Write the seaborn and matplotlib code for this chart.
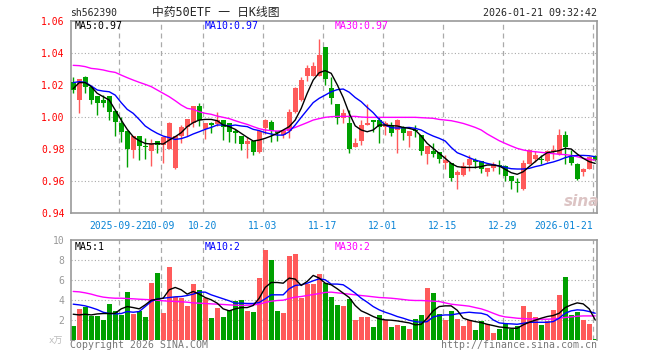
import numpy as np
import pandas as pd
import matplotlib
matplotlib.use('Agg')
import matplotlib.pyplot as plt
import seaborn as sns

# 日K 데이터
opens = [1.0215, 1.0104, 1.0248, 1.0183, 1.0129, 1.0106, 1.0129, 1.0038, 0.9963, 0.9913,
         0.9790, 0.9879, 0.9819, 0.9788, 0.9848, 0.9821, 0.9800, 0.9679, 0.9879, 0.9933,
         0.9963, 1.0067, 0.9921, 0.9963, 0.9954, 0.9979, 0.9958, 0.9913, 0.9879, 0.9829,
         0.9848, 0.9779, 0.9929, 0.9967, 0.9908, 0.9885, 0.9913, 1.0031, 1.0104, 1.0256,
         1.0256, 1.0256, 1.0435, 1.0179, 1.0079, 0.9992, 0.9963, 0.9810, 0.9850, 0.9950,
         0.9979, 0.9979, 0.9935, 0.9950, 0.9915, 0.9935, 0.9879, 0.9919, 0.9883, 0.9765,
         0.9783, 0.9777, 0.9710, 0.9710, 0.9633, 0.9633, 0.9698, 0.9727, 0.9723, 0.9654,
         0.9681, 0.9698, 0.9694, 0.9627, 0.9594, 0.9548, 0.9706, 0.9733, 0.9738, 0.9723,
         0.9777, 0.9769, 0.9883, 0.9748, 0.9706, 0.9654, 0.9675, 0.9752]
highs = [1.0250, 1.0235, 1.0254, 1.0185, 1.0131, 1.0133, 1.0131, 1.0040, 0.9996, 0.9915,
         0.9880, 0.9881, 0.9869, 0.9863, 0.9850, 0.9871, 0.9967, 0.9879, 0.9948, 0.9988,
         1.0067, 1.0088, 0.9963, 0.9965, 1.0029, 0.9981, 0.9960, 0.9925, 0.9881, 0.9871,
         0.9850, 0.9910, 0.9988, 0.9979, 0.9910, 0.9917, 1.0050, 1.0183, 1.0250, 1.0323,
         1.0342, 1.0485, 1.0437, 1.0250, 1.0081, 1.0050, 1.0042, 0.9865, 0.9979, 1.0079,
         0.9981, 0.9996, 0.9971, 0.9967, 0.9983, 0.9942, 0.9910, 0.9946, 0.9885, 0.9815,
         0.9835, 0.9779, 0.9758, 0.9712, 0.9665, 0.9717, 0.9758, 0.9744, 0.9725, 0.9679,
         0.9717, 0.9727, 0.9696, 0.9629, 0.9619, 0.9727, 0.9800, 0.9783, 0.9758, 0.9794,
         0.9821, 0.9925, 0.9910, 0.9790, 0.9708, 0.9679, 0.9752, 0.9758]
lows = [1.0146, 1.0025, 1.0150, 1.0079, 1.0011, 1.0063, 0.9980, 0.9879, 0.9844, 0.9683,
        0.9740, 0.9729, 0.9733, 0.9692, 0.9775, 0.9713, 0.9798, 0.9675, 0.9833, 0.9879,
        0.9938, 0.9942, 0.9863, 0.9896, 0.9942, 0.9854, 0.9844, 0.9833, 0.9792, 0.9744,
        0.9758, 0.9771, 0.9892, 0.9844, 0.9846, 0.9865, 0.9865, 1.0021, 1.0096, 1.0225,
        1.0254, 1.0254, 1.0198, 1.0079, 0.9954, 0.9958, 0.9775, 0.9808, 0.9823, 0.9946,
        0.9906, 0.9833, 0.9883, 0.9877, 0.9773, 0.9852, 0.9810, 0.9873, 0.9758, 0.9702,
        0.9748, 0.9710, 0.9675, 0.9598, 0.9548, 0.9627, 0.9660, 0.9681, 0.9648, 0.9627,
        0.9660, 0.9644, 0.9598, 0.9548, 0.9529, 0.9540, 0.9702, 0.9717, 0.9706, 0.9717,
        0.9738, 0.9758, 0.9706, 0.9696, 0.9606, 0.9627, 0.9673, 0.9723]
closes = [1.0170, 1.0233, 1.0188, 1.0104, 1.0088, 1.0088, 1.0031, 0.9969, 0.9904, 0.9800,
          0.9879, 0.9819, 0.9813, 0.9833, 0.9823, 0.9871, 0.9963, 0.9879, 0.9933, 0.9988,
          1.0067, 0.9979, 0.9963, 0.9950, 0.9979, 0.9933, 0.9904, 0.9900, 0.9829, 0.9850,
          0.9781, 0.9910, 0.9979, 0.9908, 0.9900, 0.9910, 1.0031, 1.0179, 1.0229, 1.0304,
          1.0317, 1.0385, 1.0235, 1.0117, 0.9992, 1.0023, 0.9800, 0.9838, 0.9946, 0.9963,
          0.9967, 0.9938, 0.9963, 0.9898, 0.9977, 0.9898, 0.9908, 0.9908, 0.9785, 0.9815,
          0.9765, 0.9733, 0.9727, 0.9617, 0.9654, 0.9694, 0.9733, 0.9717, 0.9675, 0.9677,
          0.9706, 0.9690, 0.9627, 0.9598, 0.9588, 0.9713, 0.9794, 0.9758, 0.9731, 0.9783,
          0.9794, 0.9883, 0.9810, 0.9710, 0.9613, 0.9675, 0.9748, 0.9727]

ma5 = [1.0175, 1.0213, 1.0213, 1.0188, 1.0146, 1.0125, 1.0104, 1.0042, 0.9979, 0.9921,
       0.9875, 0.9850, 0.9833, 0.9829, 0.9833, 0.9829, 0.9854, 0.9875, 0.9900, 0.9938,
       0.9963, 0.9979, 0.9983, 0.9983, 0.9975, 0.9948, 0.9938, 0.9921, 0.9896, 0.9871,
       0.9848, 0.9854, 0.9865, 0.9879, 0.9896, 0.9917, 0.9938, 0.9979, 1.0052, 1.0146,
       1.0229, 1.0275, 1.0288, 1.0271, 1.0200, 1.0120, 1.0021, 0.9943, 0.9917, 0.9906,
       0.9917, 0.9948, 0.9948, 0.9944, 0.9942, 0.9933, 0.9927, 0.9917, 0.9879, 0.9833,
       0.9802, 0.9771, 0.9740, 0.9708, 0.9688, 0.9683, 0.9683, 0.9683, 0.9688, 0.9698,
       0.9698, 0.9692, 0.9671, 0.9650, 0.9640, 0.9656, 0.9688, 0.9719, 0.9750, 0.9775,
       0.9781, 0.9788, 0.9802, 0.9798, 0.9767, 0.9740, 0.9719, 0.9708]
ma10 = [1.0213, 1.0219, 1.0215, 1.0192, 1.0167, 1.0160, 1.0156, 1.0135, 1.0088, 1.0046,
        1.0021, 0.9983, 0.9942, 0.9917, 0.9896, 0.9879, 0.9869, 0.9858, 0.9863, 0.9875,
        0.9892, 0.9906, 0.9921, 0.9933, 0.9948, 0.9948, 0.9942, 0.9948, 0.9942, 0.9938,
        0.9921, 0.9913, 0.9900, 0.9892, 0.9885, 0.9885, 0.9906, 0.9948, 0.9996, 1.0042,
        1.0088, 1.0115, 1.0135, 1.0156, 1.0169, 1.0173, 1.0153, 1.0120, 1.0094, 1.0058,
        1.0025, 0.9983, 0.9948, 0.9931, 0.9929, 0.9931, 0.9933, 0.9927, 0.9917, 0.9896,
        0.9879, 0.9865, 0.9848, 0.9808, 0.9775, 0.9760, 0.9744, 0.9729, 0.9719, 0.9708,
        0.9700, 0.9692, 0.9683, 0.9675, 0.9673, 0.9673, 0.9677, 0.9688, 0.9696, 0.9708,
        0.9717, 0.9729, 0.9744, 0.9754, 0.9758, 0.9758, 0.9756, 0.9750]
ma30 = [1.0321, 1.0319, 1.0313, 1.0302, 1.0298, 1.0292, 1.0283, 1.0277, 1.0260, 1.0244,
        1.0229, 1.0215, 1.0202, 1.0188, 1.0167, 1.0146, 1.0125, 1.0100, 1.0073, 1.0052,
        1.0046, 1.0031, 1.0021, 1.0015, 1.0004, 0.9996, 0.9988, 0.9975, 0.9963, 0.9952,
        0.9938, 0.9925, 0.9917, 0.9913, 0.9910, 0.9913, 0.9921, 0.9933, 0.9948, 0.9963,
        0.9979, 0.9988, 0.9996, 1.0000, 1.0002, 1.0002, 1.0002, 1.0002, 0.9998, 0.9996,
        0.9996, 0.9996, 0.9996, 0.9996, 0.9996, 0.9996, 0.9996, 0.9996, 0.9994, 0.9992,
        0.9990, 0.9983, 0.9979, 0.9975, 0.9967, 0.9958, 0.9946, 0.9933, 0.9917, 0.9892,
        0.9871, 0.9850, 0.9833, 0.9817, 0.9802, 0.9792, 0.9785, 0.9781, 0.9777, 0.9773,
        0.9769, 0.9765, 0.9763, 0.9758, 0.9750, 0.9740, 0.9733, 0.9729]

# 거래량 (万)
vol = [1.43, 3.11, 3.34, 2.40, 2.44, 2.00, 3.61, 2.91, 2.50, 4.82,
       2.60, 2.91, 2.30, 5.73, 6.74, 2.71, 7.34, 4.32, 4.25, 3.41,
       5.63, 5.03, 4.18, 2.20, 3.21, 2.34, 3.01, 3.85, 4.02, 2.91,
       2.81, 6.24, 9.00, 8.05, 2.91, 2.71, 8.45, 8.66, 4.25, 5.56,
       5.63, 6.64, 5.66, 4.32, 3.51, 3.41, 4.12, 2.00, 2.30, 2.30,
       1.29, 2.50, 2.00, 1.29, 1.50, 1.39, 1.09, 2.10, 2.50, 5.23,
       4.72, 2.60, 2.00, 2.91, 2.10, 1.39, 2.00, 0.99, 1.90, 1.60,
       0.69, 1.09, 1.56, 1.09, 1.39, 3.41, 2.81, 2.30, 1.50, 1.90,
       3.01, 4.52, 6.33, 2.50, 2.81, 2.00, 1.60, 0.08]
vol_ma5 = [2.57, 2.50, 2.57, 2.50, 2.60, 2.64, 2.64, 2.67, 3.11, 3.34,
           3.24, 3.11, 3.51, 3.98, 4.08, 4.18, 5.03, 5.26, 5.03, 4.59,
           4.86, 4.59, 4.25, 4.02, 3.68, 3.11, 2.91, 3.11, 3.24, 3.24,
           3.45, 4.18, 5.26, 5.76, 5.76, 5.69, 6.20, 6.10, 5.46, 5.87,
           6.47, 6.20, 5.69, 5.53, 5.13, 4.69, 4.25, 3.45, 2.91, 2.64,
           2.34, 2.10, 2.00, 1.97, 1.90, 1.80, 1.70, 1.50, 1.56, 2.17,
           2.91, 3.34, 3.41, 3.41, 2.97, 2.17, 1.97, 1.83, 1.73, 1.56,
           1.43, 1.29, 1.23, 1.16, 1.16, 1.50, 1.76, 1.97, 2.17, 2.34,
           2.44, 2.67, 3.24, 3.51, 3.71, 3.61, 3.11, 2.00]
vol_ma10 = [3.58, 3.51, 3.41, 3.24, 3.04, 2.77, 2.64, 2.61, 2.64, 2.84,
            2.77, 2.84, 3.34, 3.85, 4.12, 4.18, 4.25, 4.32, 4.35, 4.45,
            4.59, 4.79, 4.79, 4.52, 4.32, 4.12, 3.92, 3.68, 3.68, 3.65,
            3.65, 3.75, 4.12, 4.52, 4.52, 4.52, 5.13, 5.46, 5.53, 5.69,
            5.93, 6.13, 6.03, 5.60, 5.60, 5.53, 5.13, 4.69, 4.18, 3.78,
            3.34, 3.01, 2.77, 2.57, 2.34, 2.17, 1.97, 1.83, 1.76, 1.83,
            2.30, 2.44, 2.50, 2.50, 2.61, 2.71, 2.77, 2.71, 2.67, 2.50,
            2.00, 1.70, 1.63, 1.60, 1.56, 1.66, 1.76, 1.76, 1.76, 1.76,
            1.83, 2.17, 2.67, 2.91, 3.01, 2.97, 2.84, 2.67]
vol_ma30 = [4.86, 4.82, 4.72, 4.59, 4.42, 4.29, 4.22, 4.18, 4.18, 4.15,
            4.12, 4.08, 4.05, 4.02, 3.98, 3.92, 3.88, 3.85, 3.82, 3.78,
            3.71, 3.68, 3.65, 3.61, 3.58, 3.55, 3.51, 3.48, 3.45, 3.48,
            3.51, 3.58, 3.75, 3.88, 3.95, 3.98, 4.15, 4.29, 4.35, 4.45,
            4.55, 4.65, 4.76, 4.79, 4.72, 4.65, 4.59, 4.52, 4.45, 4.39,
            4.32, 4.25, 4.22, 4.18, 4.12, 4.05, 3.98, 3.95, 3.95, 3.92,
            3.88, 3.85, 3.71, 3.58, 3.51, 3.45, 3.38, 3.24, 3.11, 2.91,
            2.67, 2.44, 2.30, 2.24, 2.17, 2.13, 2.10, 2.10, 2.07, 2.07,
            2.10, 2.17, 2.24, 2.30, 2.37, 2.40, 2.40, 2.40]

date_idx = [8, 15, 22, 32, 42, 52, 62, 72, 87]
date_labels = ['2025-09-22', '10-09', '10-20', '11-03', '11-17',
               '12-01', '12-15', '12-29', '2026-01-21']
price_ticks = [0.94, 0.96, 0.98, 1.00, 1.02, 1.04, 1.06]
vol_ticks = [2, 4, 6, 8, 10]

RED = '#ff5a5a'
GREEN = '#00a000'
GRID = '#aaaaaa'
FRAME = '#999999'

sns.set_style('white')
plt.rcParams['font.family'] = ['DejaVu Sans Mono', 'Noto Sans CJK SC']

df = pd.DataFrame({'i': np.arange(len(closes)), 'open': opens, 'high': highs,
                   'low': lows, 'close': closes, 'ma5': ma5, 'ma10': ma10,
                   'ma30': ma30, 'vol': vol, 'vma5': vol_ma5,
                   'vma10': vol_ma10, 'vma30': vol_ma30})
df['dir'] = np.where(df['close'] >= df['open'], 'up', 'down')
colors = df['dir'].map({'up': RED, 'down': GREEN})

W, H = 660, 360
fig = plt.figure(figsize=(6.6, 3.6), dpi=100)


def box(l, t, r, b):
    return [l / W, 1 - b / H, (r - l) / W, (b - t) / H]


ax = fig.add_axes(box(70.7, 20.7, 597.3, 212.7))
axv = fig.add_axes(box(70.7, 240.3, 597.3, 339.8))
x_lim = (-0.4167, 87.35)
grid_x = [d - 0.42 for d in date_idx]

# 격자선
ax.vlines(grid_x, 0.94, 1.06, color=GRID, lw=0.9, ls=(0, (4, 3)), zorder=1)
ax.hlines(price_ticks[1:-1], x_lim[0], x_lim[1], color=GRID, lw=0.8, ls=(0, (1, 2)), zorder=1)
axv.vlines(grid_x, 0, 10, color=GRID, lw=0.9, ls=(0, (4, 3)), zorder=1)
axv.hlines(vol_ticks[:-1], x_lim[0], x_lim[1], color=GRID, lw=0.8, ls=(0, (1, 2)), zorder=1)

# 캔들
body_lo = df[['open', 'close']].min(axis=1)
body_h = (df['close'] - df['open']).abs().clip(lower=0.0006)
ax.vlines(df['i'], df['low'], df['high'], colors=colors, lw=1, zorder=2)
ax.bar(df['i'], body_h, bottom=body_lo, width=0.83, color=colors, linewidth=0, zorder=3)

# 이동평균선
for col, c in [('ma30', 'magenta'), ('ma10', 'blue'), ('ma5', 'black')]:
    sns.lineplot(data=df, x='i', y=col, color=c, lw=1, ax=ax, zorder=4)

# 거래량
sns.barplot(data=df, x='i', y='vol', hue='dir', palette={'up': RED, 'down': GREEN},
            native_scale=True, width=0.83, dodge=False, legend=False, errorbar=None,
            saturation=1, linewidth=0, ax=axv, zorder=2)
for col, c in [('vma30', 'magenta'), ('vma10', 'blue'), ('vma5', 'black')]:
    sns.lineplot(data=df, x='i', y=col, color=c, lw=1, ax=axv, zorder=4)

ax.set_xlim(*x_lim)
ax.set_ylim(0.94, 1.06)
ax.set_yticks(price_ticks)
ax.set_yticklabels([f'{t:.2f}' for t in price_ticks], color='red', fontsize=7)
ax.set_xticks(grid_x)
ax.set_xticklabels(date_labels, color='#0a84d6', fontsize=7)
ax.get_xticklabels()[-1].set_ha('right')
ax.tick_params(axis='both', length=0)
ax.tick_params(axis='y', pad=4.5)
ax.tick_params(axis='x', pad=6)
ax.set_xlabel('')
ax.set_ylabel('')

axv.set_xlim(*x_lim)
axv.set_ylim(0, 10)
axv.set_yticks(vol_ticks)
axv.set_yticklabels([str(t) for t in vol_ticks], color=FRAME, fontsize=7)
axv.set_xticks([])
axv.tick_params(axis='both', length=0)
axv.tick_params(axis='y', pad=4.5)
axv.set_xlabel('')
axv.set_ylabel('')

for a in (ax, axv):
    for s in a.spines.values():
        s.set_color(FRAME)
        s.set_linewidth(1.2)
axv.spines['bottom'].set_visible(False)

# 글자
fig.text(70 / W, 1 - 13 / H, 'sh562390', fontsize=7, va='center', ha='left')
fig.text(216 / W, 1 - 12.5 / H, '中药50ETF 一 日K线图', fontsize=8.5, va='center', ha='center')
fig.text(597 / W, 1 - 13 / H, '2026-01-21 09:32:42', fontsize=7.2, va='center', ha='right')

fig.text(75 / W, 1 - 26 / H, 'MA5:0.97', color='black', fontsize=7.1, va='center')
fig.text(204.7 / W, 1 - 26 / H, 'MA10:0.97', color='blue', fontsize=7.1, va='center')
fig.text(334.7 / W, 1 - 26 / H, 'MA30:0.97', color='magenta', fontsize=7.1, va='center')

fig.text(75 / W, 1 - 247.5 / H, 'MA5:1', color='black', fontsize=7.1, va='center')
fig.text(204.7 / W, 1 - 247.5 / H, 'MA10:2', color='blue', fontsize=7.1, va='center')
fig.text(334.7 / W, 1 - 247.5 / H, 'MA30:2', color='magenta', fontsize=7.1, va='center')

fig.text(49 / W, 1 - 341 / H, 'x万', color='#bbbbbb', fontsize=6.5, va='center')
fig.text(70 / W, 1 - 345 / H, 'Copyright 2026 SINA.COM', color='#777777', fontsize=7.1, va='center')
fig.text(597 / W, 1 - 345 / H, 'http://finance.sina.com.cn', color='#777777', fontsize=7.1,
         va='center', ha='right')
fig.text(582 / W, 1 - 201 / H, 'sina', color='#dcc4c4', fontsize=11, fontweight='bold',
         style='italic', va='center', ha='center', family='DejaVu Sans')

fig.savefig('out.png', dpi=100)
